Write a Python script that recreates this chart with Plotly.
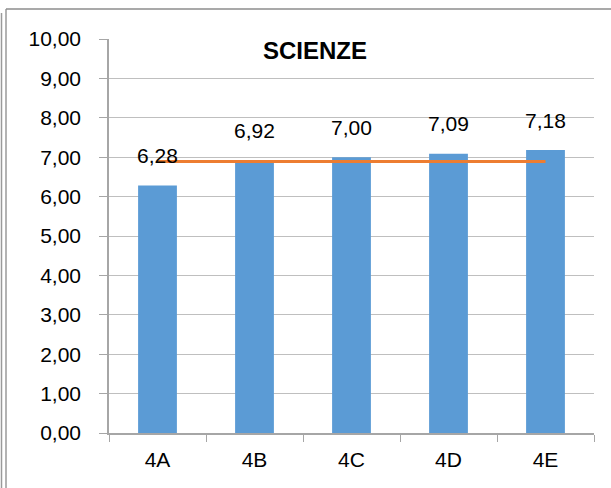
import plotly.graph_objects as go

categories = ["4A", "4B", "4C", "4D", "4E"]
values = [6.28, 6.92, 7.00, 7.09, 7.18]
average = [6.89, 6.89, 6.89, 6.89, 6.89]
tick_vals = [0, 1, 2, 3, 4, 5, 6, 7, 8, 9, 10]
tick_text = ["0,00", "1,00", "2,00", "3,00", "4,00", "5,00", "6,00", "7,00", "8,00", "9,00", "10,00"]
title_text = "SCIENZE"

FONT = "Liberation Sans"
L, R, T, B = 109, 17, 39, 55
PW, PH = 611 - L - R, 488 - T - B


def px(x):
    return (x - L) / PW


def py(y):
    return (488 - B - y) / PH


fig = go.Figure()
fig.add_trace(go.Bar(x=categories, y=values, marker=dict(color="#5B9BD5", line=dict(width=0)),
                     showlegend=False, hoverinfo="x+y"))
fig.add_trace(go.Scatter(x=categories, y=average, mode="lines",
                         line=dict(color="#ED7D31", width=3), showlegend=False))

for c, v in zip(categories, values):
    fig.add_annotation(x=c, y=v, text=f"{v:.2f}".replace(".", ","), showarrow=False,
                       yanchor="middle", yshift=30, font=dict(family=FONT, size=21, color="#000000"))

fig.add_annotation(xref="paper", yref="paper", x=px(315), y=py(50), text=f"<b>{title_text}</b>",
                   showarrow=False, xanchor="center", yanchor="middle",
                   font=dict(family=FONT, size=24, color="#000000"))

# outer chart border (left double line + top line)
fig.add_shape(type="line", xref="paper", yref="paper", x0=px(6), x1=px(6), y0=py(9), y1=py(490),
              line=dict(color="#9A9A9A", width=1.5))
fig.add_shape(type="line", xref="paper", yref="paper", x0=px(6), x1=px(615), y0=py(9), y1=py(9),
              line=dict(color="#8C8C8C", width=1.5))
fig.add_shape(type="line", xref="paper", yref="paper", x0=px(1.5), x1=px(1.5), y0=py(13), y1=py(490),
              line=dict(color="#9A9A9A", width=1.5))

fig.update_layout(
    width=611, height=488,
    margin=dict(l=L, r=R, t=T, b=B),
    paper_bgcolor="white", plot_bgcolor="white",
    bargap=0.6,
    font=dict(family=FONT, size=21, color="#000000"),
    xaxis=dict(type="category", showgrid=False, showline=True, linecolor="#A6A6A6", linewidth=1.5,
               ticks="outside", tickson="boundaries", ticklen=7, tickcolor="#A6A6A6",
               ticklabelstandoff=7,
               tickfont=dict(family=FONT, size=21, color="#000000"), range=[-0.5, 4.5], fixedrange=True),
    yaxis=dict(range=[0, 10], tickvals=tick_vals, ticktext=tick_text, showgrid=True, gridcolor="#BFBFBF",
               gridwidth=1.2, showline=True, linecolor="#A6A6A6", linewidth=1.5, ticks="outside",
               ticklen=8, tickcolor="#A6A6A6", ticklabelstandoff=14,
               tickfont=dict(family=FONT, size=21, color="#000000"),
               zeroline=False, fixedrange=True),
)

fig.write_html("out.html", config={"displayModeBar": False},
               post_script="document.body.style.margin='0';document.body.style.overflow='hidden';")
